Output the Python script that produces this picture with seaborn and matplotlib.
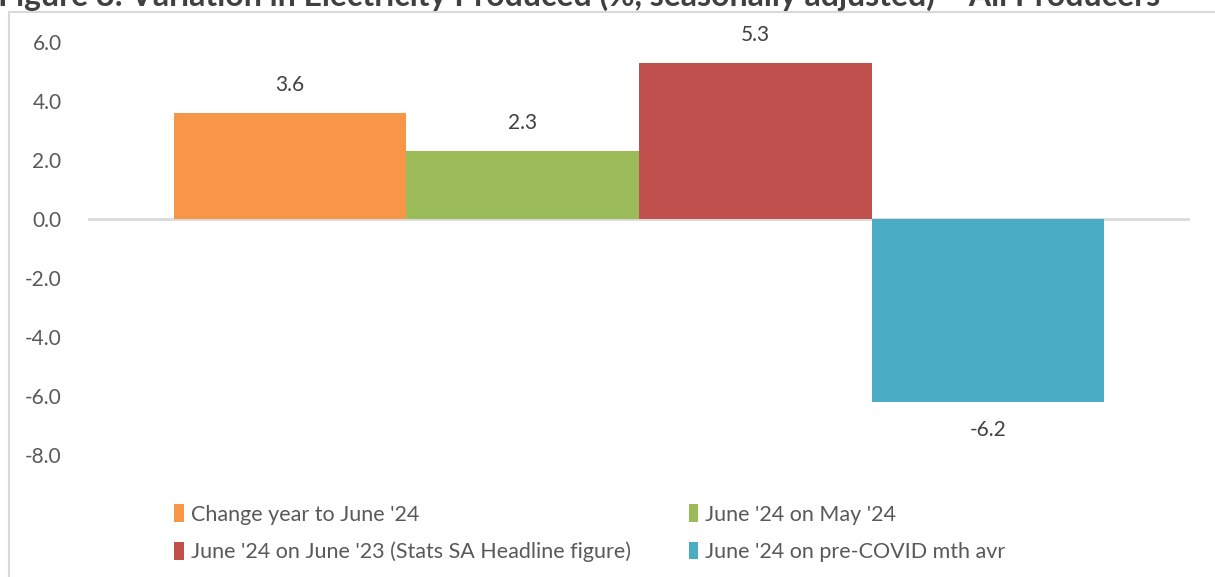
import matplotlib
matplotlib.use('Agg')
import matplotlib.pyplot as plt
from matplotlib.patches import Rectangle, Patch
import seaborn as sns
import pandas as pd

sns.set_theme(style='white')
plt.rcParams['font.family'] = ['Lato', 'DejaVu Sans']

# data
series = ["Change year to June '24",
          "June '24 on May '24",
          "June '24 on June '23 (Stats SA Headline figure)",
          "June '24 on pre-COVID mth avr"]
values = [3.6, 2.3, 5.3, -6.2]
colors = ['#F79646', '#9BBB59', '#C0504D', '#4BACC6']
yticks = [6.0, 4.0, 2.0, 0.0, -2.0, -4.0, -6.0, -8.0]

df = pd.DataFrame({'cat': ['all'] * len(series), 'series': series, 'value': values})

fig = plt.figure(figsize=(12.15, 5.77), dpi=100)
ax = fig.add_axes([88 / 1215, 1 - 455 / 577, (1190 - 88) / 1215, (455 - 42) / 577])

sns.barplot(data=df, x='cat', y='value', hue='series', palette=colors,
            width=0.844, gap=0, saturation=1, legend=False, linewidth=0, ax=ax)

for c in ax.containers:
    ax.bar_label(c, fmt='%.1f', padding=13, fontsize=15, color='#404040')

ax.set_xlim(-0.5, 0.5)
ax.set_ylim(-8, 6)
ax.set_yticks(yticks)
ax.set_yticklabels(['%.1f' % v for v in yticks], fontsize=15, color='#595959')
ax.tick_params(axis='y', length=0, pad=19)
ax.set_xticks([])
ax.set_xlabel('')
ax.set_ylabel('')
for s in ax.spines.values():
    s.set_visible(False)
ax.axhline(0, color='#D9D9D9', lw=2, zorder=0)

# chart frame
fig.patches.append(Rectangle((9 / 1215, -0.01), 1.1, 1 - 12 / 577 + 0.01,
                             transform=fig.transFigure, fill=False,
                             edgecolor='#D9D9D9', lw=1.5))

# title, clipped by the top of the image like the source
fig.text(-0.002, 1 - 6 / 577,
         'Figure 8: Variation in Electricity Produced (%, seasonally adjusted) \u2013 All Producers',
         fontsize=23, fontweight='bold', color='#404040', va='baseline', ha='left')

handles = [Patch(facecolor=c, edgecolor='none') for c in colors]
order = [0, 2, 1, 3]
fig.legend([handles[i] for i in order], [series[i] for i in order],
           ncol=2, loc='upper left', bbox_to_anchor=(155 / 1215, 1 - 485 / 577),
           frameon=False, fontsize=15.5, labelcolor='#595959',
           handlelength=0.45, handleheight=0.9, handletextpad=0.3,
           columnspacing=2.7, labelspacing=0.78)

fig.savefig('out.png', dpi=100)
